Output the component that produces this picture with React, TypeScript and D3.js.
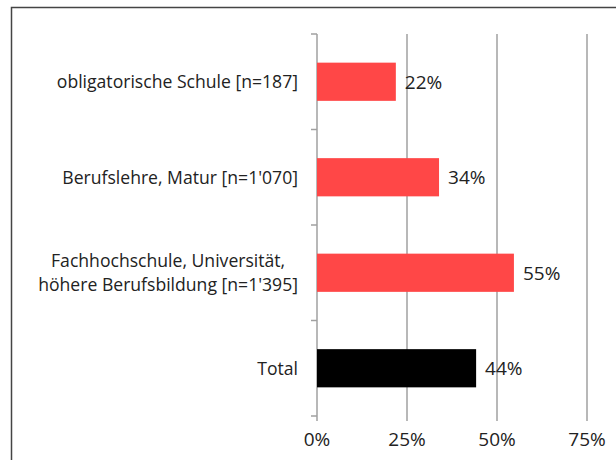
import React from "react";
import * as d3 from "d3";

const categories = [
  ["obligatorische Schule [n=187]"],
  ["Berufslehre, Matur [n=1'070]"],
  ["Fachhochschule, Universität,", "höhere Berufsbildung [n=1'395]"],
  ["Total"],
];
const values = [21.9, 33.9, 54.7, 44.2];
const labels = ["22%", "34%", "55%", "44%"];
const barColors = ["#FF4747", "#FF4747", "#FF4747", "#000000"];
const xTicks = [0, 25, 50, 75];

const font = "'Open Sans', 'Noto Sans', sans-serif";
const catSize = 17.6;

function measure(s: string, size: number): number {
  const c = document.createElement("canvas").getContext("2d");
  if (!c) return s.length * size * 0.5;
  c.font = `${size}px 'Open Sans'`;
  return c.measureText(s).width;
}

export default function App() {
  const W = 616, H = 460;
  const x0 = 317, x1 = 587, y0 = 34, y1 = 416;
  const x = d3.scaleLinear().domain([0, 75]).range([x0, x1]);
  const y = d3.scaleBand<number>().domain(d3.range(categories.length)).range([y0, y1]).paddingInner(0.6).paddingOuter(0.3);
  const yb = d3.scaleBand<number>().domain(d3.range(categories.length)).range([y0, y1]);
  const labelRight = 298;
  return (
    <svg width={W} height={H} style={{ position: "absolute", left: 0, top: 0, background: "#fff" }}>
      <rect x={11.5} y={7.5} width={W + 20} height={H + 20} fill="#fff" stroke="#444" strokeWidth={1.5} />
      {xTicks.slice(1).map((t) => (
        <line key={t} x1={x(t)} x2={x(t)} y1={y0} y2={y1} stroke="#a0a0a0" strokeWidth={1.5} />
      ))}
      <line x1={x0} x2={x0} y1={y0} y2={y1} stroke="#a0a0a0" strokeWidth={1.5} />
      {d3.range(categories.length + 1).map((i) => {
        const yy = i < categories.length ? yb(i)! : y1;
        return <line key={i} x1={x0 - 6} x2={x0} y1={yy} y2={yy} stroke="#a0a0a0" strokeWidth={1.5} />;
      })}
      {xTicks.map((t) => (
        <line key={t} x1={x(t)} x2={x(t)} y1={y1} y2={y1 + 5} stroke="#a0a0a0" strokeWidth={1.5} />
      ))}
      {values.map((v, i) => (
        <g key={i}>
          <rect x={x0} y={y(i)} width={x(v) - x0} height={y.bandwidth()} fill={barColors[i]} />
          <text x={x(v) + 9} y={y(i)! + y.bandwidth() / 2} dy="0.36em" fontFamily={font} fontSize={19} fill="#222">
            {labels[i]}
          </text>
        </g>
      ))}
      {categories.map((lines, i) => {
        const cy = y(i)! + y.bandwidth() / 2;
        const lh = 24.5;
        const maxW = Math.max(...lines.map((l) => measure(l, catSize)));
        const cx = labelRight - maxW / 2;
        return lines.map((l, j) => (
          <text
            key={`${i}-${j}`}
            x={lines.length > 1 ? cx : labelRight}
            y={cy + (j - (lines.length - 1) / 2) * lh}
            dy="0.36em"
            textAnchor={lines.length > 1 ? "middle" : "end"}
            fontFamily={font}
            fontSize={catSize}
            fill="#222"
          >
            {l}
          </text>
        ));
      })}
      {xTicks.map((t) => (
        <text key={t} x={x(t)} y={446} textAnchor="middle" fontFamily={font} fontSize={19} fill="#222">
          {t}%
        </text>
      ))}
    </svg>
  );
}
